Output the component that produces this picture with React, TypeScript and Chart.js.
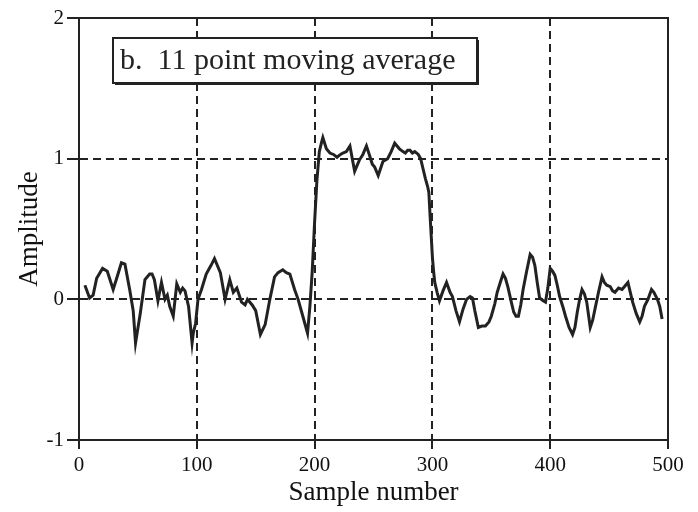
import React, { useEffect, useRef } from "react";
import { Chart, registerables } from "chart.js";

Chart.register(...registerables);

const LABEL_TEXT = "b.  11 point moving average";
const X_TITLE = "Sample number";
const Y_TITLE = "Amplitude";
const X_TICKS = [0, 100, 200, 300, 400, 500];
const Y_TICKS = [-1, 0, 1, 2];

const SAMPLES = [
  5, 9, 12, 15, 20, 24, 29, 32, 36, 39, 43, 46, 48, 52, 56, 60, 62, 64, 67, 70,
  73, 75, 77, 80, 83, 86, 88, 90, 93, 96, 97, 99, 101, 104, 108, 112, 115, 120, 124, 128,
  131, 134, 138, 141, 143, 147, 150, 154, 158, 162, 166, 169, 173, 176, 179, 183, 186, 189, 194, 196,
  198, 200, 202, 204, 206, 207, 210, 213, 216, 219, 222, 224, 227, 230, 232, 234, 236, 238, 241, 244,
  246, 249, 251, 254, 256, 258, 262, 265, 268, 270, 272, 275, 277, 279, 281, 283, 285, 288, 290, 292,
  294, 296, 297, 298, 299, 300, 301, 302, 304, 306, 309, 312, 315, 317, 320, 323, 326, 329, 332, 334,
  336, 339, 342, 345, 348, 350, 353, 355, 358, 360, 362, 364, 367, 369, 371, 373, 375, 377, 380, 383,
  385, 387, 389, 391, 394, 396, 398, 400, 402, 404, 406, 408, 411, 413, 416, 419, 421, 423, 425, 427,
  429, 431, 434, 436, 438, 441, 444, 446, 448, 451, 453, 455, 458, 461, 464, 466, 468, 470, 473, 476,
  478, 480, 483, 486, 488, 491, 493, 495,
];

const AMPLITUDE = [
  0.1, 0.01, 0.03, 0.15, 0.22, 0.2, 0.07, 0.15, 0.26, 0.25, 0.07, -0.08, -0.31, -0.1, 0.14, 0.18, 0.18, 0.14, -0.01, 0.12,
  0.0, 0.03, -0.05, -0.12, 0.11, 0.05, 0.08, 0.06, -0.05, -0.31, -0.24, -0.17, 0.0, 0.07, 0.18, 0.24, 0.29, 0.19, 0.0, 0.14,
  0.05, 0.08, -0.02, -0.04, 0.0, -0.04, -0.08, -0.25, -0.18, 0.0, 0.16, 0.19, 0.21, 0.19, 0.18, 0.07, 0.0, -0.09, -0.24, -0.05,
  0.2, 0.55, 0.85, 1.05, 1.12, 1.15, 1.07, 1.04, 1.03, 1.01, 1.03, 1.04, 1.05, 1.09, 1.0, 0.91, 0.95, 0.99, 1.03, 1.09,
  1.04, 0.96, 0.94, 0.88, 0.93, 0.98, 1.0, 1.05, 1.11, 1.09, 1.07, 1.05, 1.04, 1.06, 1.06, 1.04, 1.05, 1.03, 1.0, 0.93,
  0.86, 0.8, 0.76, 0.6, 0.45, 0.3, 0.2, 0.12, 0.05, -0.01, 0.06, 0.12, 0.05, 0.02, -0.08, -0.16, -0.07, 0.0, 0.02, 0.01,
  -0.08, -0.2, -0.19, -0.19, -0.16, -0.12, -0.03, 0.05, 0.13, 0.18, 0.15, 0.09, -0.02, -0.09, -0.12, -0.12, -0.04, 0.07, 0.2, 0.32,
  0.3, 0.24, 0.12, 0.01, -0.01, -0.02, 0.08, 0.22, 0.2, 0.17, 0.1, 0.02, -0.06, -0.12, -0.2, -0.25, -0.2, -0.09, 0.0, 0.07,
  0.04, -0.02, -0.2, -0.15, -0.07, 0.05, 0.16, 0.12, 0.1, 0.09, 0.06, 0.05, 0.08, 0.07, 0.1, 0.12, 0.05, -0.02, -0.1, -0.16,
  -0.12, -0.05, 0.0, 0.07, 0.05, 0.0, -0.05, -0.14,
];

const INK = "#222";
const FONT = '"Liberation Serif", "Times New Roman", serif';

const framePlugin = {
  id: "frameAndLabel",
  afterDraw(chart: any) {
    const { ctx, chartArea: a } = chart;
    ctx.save();
    ctx.strokeStyle = INK;
    ctx.lineWidth = 2;
    ctx.setLineDash([]);
    ctx.strokeRect(a.left, a.top, a.right - a.left, a.bottom - a.top);

    const bx = a.left + 34;
    const by = a.top + 20;
    const bw = 364;
    const bh = 45;
    ctx.fillStyle = "#fff";
    ctx.fillRect(bx, by, bw, bh);
    ctx.strokeRect(bx, by, bw, bh);
    ctx.fillStyle = INK;
    ctx.fillRect(bx + 2, by + bh, bw, 2);
    ctx.fillRect(bx + bw, by + 2, 2, bh);
    ctx.font = `30px ${FONT}`;
    ctx.textBaseline = "middle";
    ctx.textAlign = "left";
    ctx.fillText(LABEL_TEXT, bx + 7, by + bh / 2 + 1);
    ctx.restore();
  },
};

export default function App() {
  const ref = useRef<HTMLCanvasElement | null>(null);

  useEffect(() => {
    if (!ref.current) return;
    const points = SAMPLES.map((s, i) => ({ x: s, y: AMPLITUDE[i] }));
    const chart = new Chart(ref.current, {
      type: "line",
      data: {
        datasets: [
          {
            data: points,
            borderColor: INK,
            borderWidth: 3,
            pointRadius: 0,
            tension: 0,
            fill: false,
          },
        ],
      },
      options: {
        responsive: false,
        animation: false,
        layout: { padding: { top: 18, right: 30, left: 0, bottom: 0 } },
        plugins: { legend: { display: false }, tooltip: { enabled: false } },
        scales: {
          x: {
            type: "linear",
            min: 0,
            max: 500,
            afterBuildTicks: (scale: any) => {
              scale.ticks = X_TICKS.map((v) => ({ value: v }));
            },
            afterFit: (scale: any) => {
              scale.height = 72;
            },
            ticks: {
              color: "#111",
              font: { family: FONT, size: 21 },
              padding: 4,
              maxRotation: 0,
            },
            grid: {
              color: INK,
              lineWidth: 2,
              tickLength: 9,
              tickColor: INK,
              tickWidth: 2,
            },
            border: { display: true, color: INK, width: 2, dash: [8, 5] },
            title: {
              display: true,
              text: X_TITLE,
              color: "#111",
              font: { family: FONT, size: 27 },
              padding: { top: 0, bottom: 3 },
            },
          },
          y: {
            type: "linear",
            min: -1,
            max: 2,
            afterBuildTicks: (scale: any) => {
              scale.ticks = Y_TICKS.map((v) => ({ value: v }));
            },
            afterFit: (scale: any) => {
              scale.width = 79;
            },
            ticks: {
              color: "#111",
              font: { family: FONT, size: 21 },
              padding: 3,
            },
            grid: {
              color: INK,
              lineWidth: 2,
              tickLength: 12,
              tickColor: INK,
              tickWidth: 2,
            },
            border: { display: true, color: INK, width: 2, dash: [8, 5] },
            title: {
              display: true,
              text: Y_TITLE,
              color: "#111",
              font: { family: FONT, size: 27 },
              padding: { top: 14, bottom: 0 },
            },
          },
        },
      },
      plugins: [framePlugin],
    });
    return () => chart.destroy();
  }, []);

  return (
    <div style={{ position: "absolute", left: 0, top: 0, width: 698, height: 512, background: "#fff" }}>
      <canvas ref={ref} width={698} height={512} style={{ width: 698, height: 512, display: "block" }} />
    </div>
  );
}
